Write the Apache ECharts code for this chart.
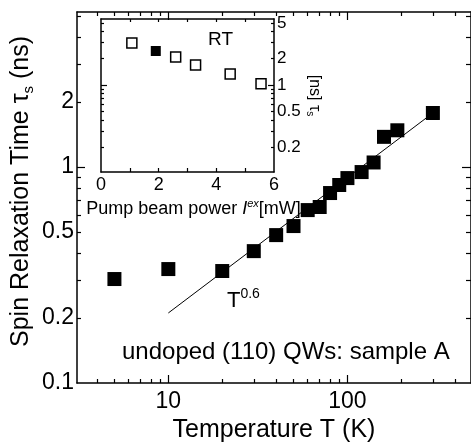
<!DOCTYPE html>
<html>
<head>
<meta charset="utf-8">
<title>Spin relaxation time</title>
<script src="https://cdn.jsdelivr.net/npm/echarts@6.0.0/dist/echarts.min.js"></script>
<style>
html, body { margin: 0; padding: 0; background: #fff; }
#chart { width: 471px; height: 443px; }
</style>
</head>
<body>
<div id="chart"></div>
<script>
// main panel: tau_s vs temperature
var tempK = [5, 10, 20, 30, 40, 50, 60, 70, 80, 90, 100, 120, 140, 160, 190, 300];
var tauS = [0.303, 0.337, 0.330, 0.408, 0.484, 0.533, 0.632, 0.653, 0.758, 0.826, 0.889, 0.948, 1.05, 1.38, 1.48, 1.78];
// T^0.6 guide line (end points)
var fitT = [10, 300];
var fitTau = [0.211, 1.78];

// inset: tau_s at RT vs pump power
var pumpOpen = [1.07, 2.59, 3.28, 4.48, 5.55];
var tauOpen = [2.96, 2.06, 1.68, 1.33, 1.03];
var pumpFilled = [1.9];
var tauFilled = [2.41];

// ticks and tick labels
var mainXLabels = [10, 100];
var mainXMajor = [10, 100];
var mainXMinor = [4, 5, 6, 7, 8, 9, 20, 30, 40, 50, 60, 70, 80, 90, 200, 300, 400];
var mainYLabels = [0.1, 0.2, 0.5, 1, 2];
var mainYMajor = [1];
var mainYMinor = [0.2, 0.3, 0.4, 0.5, 0.6, 0.7, 0.8, 0.9, 2, 3, 4, 5];
var insetXLabels = [0, 2, 4, 6];
var insetXTicks = [1, 2, 3, 4, 5];
var insetYLabels = [0.2, 0.5, 1, 2, 5];
var insetYMajor = [1];
var insetYMinor = [0.2, 0.3, 0.4, 0.5, 0.6, 0.7, 0.8, 0.9, 2, 3, 4, 5];

var FONT = 'Liberation Sans, Arial, Helvetica, sans-serif';

function lg(arr) {
	return arr.map(function(v) { return Math.log10(v); });
}
function fmt(v) {
	return String(+Math.pow(10, v).toPrecision(3));
}

// one axis; extra options merged on top
function axis(o) {
	var a = {
		type: 'value',
		gridIndex: o.grid,
		position: o.pos,
		min: o.min,
		max: o.max,
		axisLine: { show: !!o.line, onZero: false, lineStyle: { color: '#000', width: 1.5 } },
		axisTick: { show: !!o.ticks, inside: true, length: o.len || 4, customValues: o.ticks,
			lineStyle: { color: '#000', width: 1.2 } },
		axisLabel: { show: false },
		splitLine: { show: false }
	};
	if (o.labels) {
		a.axisLabel = { show: true, customValues: o.labels, margin: o.margin, fontSize: o.fontSize,
			fontFamily: FONT, color: '#000', formatter: o.formatter };
	}
	return a;
}

var xMin = 0.49, xMax = 2.69;      // log10 of 3.1 .. 490 K
var yMin = -1, yMax = 0.718;       // log10 of 0.1 .. 5.2 ns
var iyMin = -0.98, iyMax = 0.742;  // inset log10 range

var xAxes = [
	axis({ grid: 0, pos: 'bottom', min: xMin, max: xMax, line: true, ticks: lg(mainXMinor),
		labels: lg(mainXLabels), margin: 7, fontSize: 23, formatter: fmt }),
	axis({ grid: 0, pos: 'bottom', min: xMin, max: xMax, ticks: lg(mainXMajor), len: 8 }),
	axis({ grid: 0, pos: 'top', min: xMin, max: xMax, line: true, ticks: lg(mainXMinor) }),
	axis({ grid: 0, pos: 'top', min: xMin, max: xMax, ticks: lg(mainXMajor), len: 8 }),
	axis({ grid: 1, pos: 'bottom', min: 0, max: 6, line: true, ticks: insetXTicks, len: 4,
		labels: insetXLabels, margin: 4, fontSize: 18 }),
	axis({ grid: 1, pos: 'top', min: 0, max: 6, line: true, ticks: insetXTicks, len: 3 })
];
xAxes[0].name = 'Temperature T (K)';
xAxes[0].nameLocation = 'middle';
xAxes[0].nameGap = 33;
xAxes[0].nameTextStyle = { fontSize: 25, fontFamily: FONT, color: '#000' };
xAxes[4].name = 'Pump beam power {i|I}{sup|ex}[mW]';
xAxes[4].nameLocation = 'middle';
xAxes[4].nameGap = 26;
xAxes[4].nameTextStyle = {
	fontSize: 18, fontFamily: FONT, color: '#000', lineHeight: 22, padding: [0, 0, 0, 12],
	rich: {
		i: { fontSize: 18, fontFamily: FONT, fontStyle: 'italic', color: '#000', lineHeight: 22 },
		sup: { fontSize: 11, fontFamily: FONT, fontStyle: 'italic', color: '#000', verticalAlign: 'top', lineHeight: 12 }
	}
};

var yAxes = [
	axis({ grid: 0, pos: 'left', min: yMin, max: yMax, line: true, ticks: lg(mainYMinor),
		labels: lg(mainYLabels), margin: 3, fontSize: 23, formatter: fmt }),
	axis({ grid: 0, pos: 'left', min: yMin, max: yMax, ticks: lg(mainYMajor), len: 8 }),
	axis({ grid: 0, pos: 'right', min: yMin, max: yMax, line: true, ticks: lg(mainYMinor), len: 5 }),
	axis({ grid: 0, pos: 'right', min: yMin, max: yMax, ticks: lg(mainYMajor), len: 9 }),
	axis({ grid: 1, pos: 'right', min: iyMin, max: iyMax, line: true, ticks: lg(insetYMinor), len: 3,
		labels: lg(insetYLabels), margin: 3, fontSize: 17, formatter: fmt }),
	axis({ grid: 1, pos: 'right', min: iyMin, max: iyMax, ticks: lg(insetYMajor), len: 6 }),
	axis({ grid: 1, pos: 'left', min: iyMin, max: iyMax, line: true, ticks: lg(insetYMinor), len: 3 }),
	axis({ grid: 1, pos: 'left', min: iyMin, max: iyMax, ticks: lg(insetYMajor), len: 6 })
];
yAxes[0].name = 'Spin Relaxation Time {t|τ}{sub|s} (ns)';
yAxes[0].nameLocation = 'middle';
yAxes[0].nameRotate = 90;
yAxes[0].nameGap = 41;
yAxes[0].nameMoveOverlap = false;
yAxes[0].nameTextStyle = {
	fontSize: 25, fontFamily: FONT, color: '#000', lineHeight: 30, padding: [0, 0, 0, 12],
	rich: {
		t: { fontSize: 25, fontFamily: FONT, color: '#000', lineHeight: 30 },
		sub: { fontSize: 15, fontFamily: FONT, color: '#000', verticalAlign: 'bottom', lineHeight: 15 }
	}
};
yAxes[4].name = '[ns] {t|τ}{sub|s}';
yAxes[4].nameLocation = 'middle';
yAxes[4].nameRotate = -90;
yAxes[4].nameGap = 26;
yAxes[4].nameTextStyle = {
	fontSize: 16, fontFamily: FONT, color: '#000', lineHeight: 20,
	rich: {
		t: { fontSize: 16, fontFamily: FONT, color: '#000', lineHeight: 20 },
		sub: { fontSize: 10, fontFamily: FONT, color: '#000', verticalAlign: 'bottom', lineHeight: 10 }
	}
};

function pts(xs, ys, logX) {
	return xs.map(function(x, i) { return [logX ? Math.log10(x) : x, Math.log10(ys[i])]; });
}

var option = {
	animation: false,
	backgroundColor: '#fff',
	grid: [
		{ left: 77, top: 12, right: 0, bottom: 60, outerBoundsMode: 'none' },
		{ left: 101, top: 19, width: 173, height: 153, show: true, backgroundColor: '#fff', borderWidth: 0,
			outerBoundsMode: 'none' }
	],
	xAxis: xAxes,
	yAxis: yAxes,
	series: [
		{
			type: 'line', xAxisIndex: 0, yAxisIndex: 0, data: pts(fitT, fitTau, true),
			showSymbol: false, lineStyle: { color: '#000', width: 1 }, z: 1
		},
		{
			type: 'scatter', xAxisIndex: 0, yAxisIndex: 0, data: pts(tempK, tauS, true),
			symbol: 'rect', symbolSize: 14, itemStyle: { color: '#000', opacity: 1 }, z: 3
		},
		{
			type: 'scatter', xAxisIndex: 4, yAxisIndex: 4, data: pts(pumpOpen, tauOpen, false),
			symbol: 'rect', symbolSize: 10,
			itemStyle: { color: '#fff', borderColor: '#000', borderWidth: 1.5, opacity: 1 }
		},
		{
			type: 'scatter', xAxisIndex: 4, yAxisIndex: 4, data: pts(pumpFilled, tauFilled, false),
			symbol: 'rect', symbolSize: 10, itemStyle: { color: '#000', opacity: 1 }
		}
	],
	graphic: [
		{ type: 'text', left: 208, top: 30, z: 10,
			style: { text: 'RT', font: '19px ' + FONT, fill: '#000' } },
		{ type: 'text', left: 227, top: 287, z: 10,
			style: { text: '{a|T}{b|0.6}', fill: '#000',
				rich: { a: { font: '22px ' + FONT, fill: '#000', lineHeight: 28 },
					b: { font: '14px ' + FONT, fill: '#000', verticalAlign: 'top', lineHeight: 14 } } } },
		{ type: 'text', left: 122, top: 340, z: 10,
			style: { text: 'undoped (110) QWs: sample A', font: '24px ' + FONT, fill: '#000' } }
	]
};

var myChart = echarts.init(document.getElementById('chart'));
myChart.setOption(option);
</script>
</body>
</html>
